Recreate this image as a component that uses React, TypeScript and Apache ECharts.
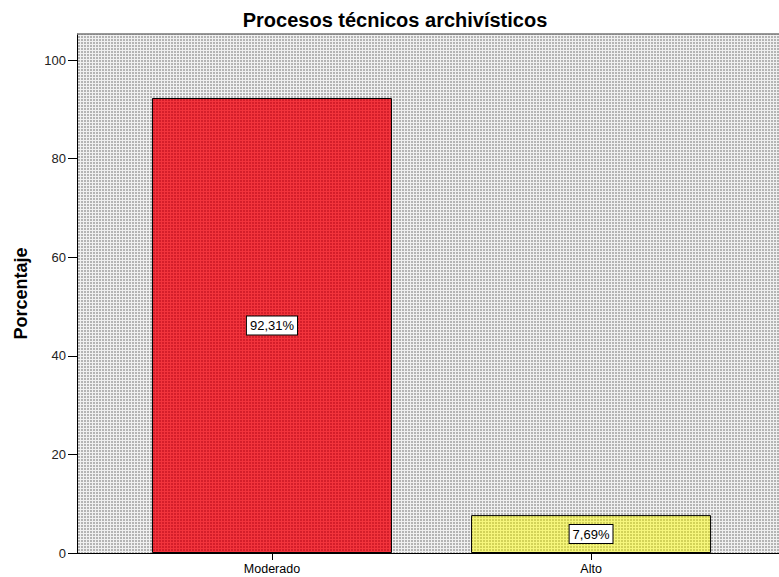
import React, { useEffect, useRef } from "react";
import * as echarts from "echarts";

const categories = ["Moderado", "Alto"];
const percentValues = [92.31, 7.69];
const yTickValues = [0, 20, 40, 60, 80, 100];
const chartTitle = "Procesos técnicos archivísticos";
const yAxisTitle = "Porcentaje";

const FONT = "'Liberation Sans', Arial, sans-serif";

function makePattern(light: string, dark: string) {
  const c = document.createElement("canvas");
  c.width = 3;
  c.height = 3;
  const ctx = c.getContext("2d")!;
  ctx.fillStyle = light;
  ctx.fillRect(0, 0, 3, 3);
  ctx.fillStyle = dark;
  ctx.fillRect(0, 0, 2, 2);
  return { image: c, repeat: "repeat" } as any;
}

export default function App() {
  const ref = useRef<HTMLDivElement>(null);

  useEffect(() => {
    if (!ref.current) return;
    const chart = echarts.init(ref.current, undefined, { renderer: "svg" });

    const bgPattern = makePattern("#f0f0f0", "#b4b4b4");
    const barPatterns = [
      makePattern("#f2343c", "#d41e2a"),
      makePattern("#f6f67c", "#d2d258"),
    ];

    const option: any = {
      animation: false,
      backgroundColor: "#ffffff",
      grid: {
        left: 77,
        top: 34,
        right: 0,
        bottom: 24,
        show: true,
        backgroundColor: bgPattern,
        borderWidth: 0,
      },
      graphic: [
        {
          type: "text",
          x: 395,
          y: 20,
          style: {
            text: chartTitle,
            font: `bold 20px ${FONT}`,
            fill: "#000",
            align: "center",
            verticalAlign: "middle",
          },
          z: 10,
        },
        {
          type: "line",
          shape: { x1: 77, y1: 34, x2: 779, y2: 34 },
          style: { stroke: "#777777", lineWidth: 1.5 },
          z: 10,
        },
      ],
      xAxis: {
        type: "value",
        min: -0.611,
        max: 1.589,
        splitLine: { show: false },
        axisLine: { show: true, onZero: false, lineStyle: { color: "#000", width: 1 } },
        axisTick: {
          show: true,
          length: 7,
          customValues: [0, 1],
          lineStyle: { color: "#000" },
        },
        axisLabel: {
          customValues: [0, 1],
          formatter: (v: number) => categories[Math.round(v)] ?? "",
          color: "#000",
          fontSize: 12.5,
          fontFamily: FONT,
          margin: 9,
        },
      },
      yAxis: {
        type: "value",
        min: 0,
        max: 105.3,
        name: yAxisTitle,
        nameLocation: "middle",
        nameRotate: 90,
        nameGap: 47,
        nameTextStyle: {
          fontWeight: "bold",
          fontSize: 18,
          color: "#000",
          fontFamily: FONT,
        },
        splitLine: { show: false },
        axisLine: { show: true, onZero: false, lineStyle: { color: "#000", width: 1 } },
        axisTick: {
          show: true,
          length: 9,
          customValues: yTickValues,
          lineStyle: { color: "#000" },
        },
        axisLabel: {
          customValues: yTickValues,
          color: "#222",
          fontSize: 13,
          fontFamily: FONT,
          margin: 11,
        },
      },
      series: [
        {
          type: "bar",
          barWidth: 240,
          data: percentValues.map((v, i) => ({
            value: [i, v],
            itemStyle: {
              color: barPatterns[i],
              borderColor: "#000",
              borderWidth: 1,
            },
          })),
          label: {
            show: true,
            position: "inside",
            formatter: (p: any) =>
              p.value[1].toFixed(2).replace(".", ",") + "%",
            color: "#000",
            fontSize: 13,
            fontFamily: FONT,
            backgroundColor: "#ffffff",
            borderColor: "#000",
            borderWidth: 1,
            padding: [3, 3, 2, 3],
          },
        },
      ],
    };

    chart.setOption(option);
    return () => chart.dispose();
  }, []);

  return (
    <div
      ref={ref}
      style={{ position: "fixed", left: 0, top: 0, width: 779, height: 577 }}
    />
  );
}
